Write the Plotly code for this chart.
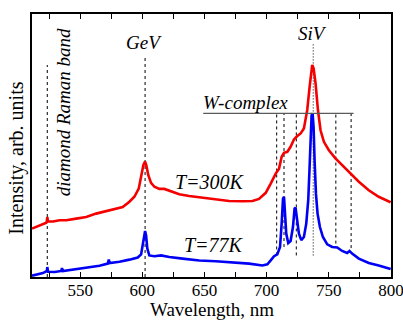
import plotly.graph_objects as go

# ---- data ----
wl_300 = [511.2, 517.4, 522.7, 523.2, 523.5, 524.1, 528.1, 533.4, 538.8, 546.8, 554.8, 562.8, 570.9,
          578.9, 584.2, 589.6, 593.6, 597.1, 599.2, 600.8, 602.2, 603.2, 604.8, 607.0, 609.7, 613.7,
          617.7, 623.0, 629.7, 637.7, 648.4, 659.1, 669.8, 680.5, 688.6, 693.9, 699.3, 703.3, 707.3,
          710.0, 712.1, 714.0, 716.7, 719.3, 722.0, 724.7, 727.4, 730.0, 732.7, 734.6, 735.9, 736.7,
          737.8, 739.4, 741.3, 743.4, 746.1, 750.1, 755.4, 760.8, 767.5, 774.2, 782.2, 790.2, 799.8]
int_300 = [18.4, 19.7, 20.6, 21.3, 22.8, 21.1, 21.1, 21.6, 21.6, 22.2, 22.8, 24.1, 25.1,
           25.8, 26.6, 28.6, 30.5, 33.6, 38.1, 42.5, 43.9, 42.5, 38.7, 35.8, 34.3, 33.5,
           33.5, 32.6, 31.5, 30.8, 30.2, 29.6, 28.9, 28.8, 28.9, 29.7, 32.0, 35.5, 39.3,
           41.2, 45.7, 47.2, 47.6, 49.5, 52.3, 53.6, 54.6, 56.5, 63.5, 72.3, 79.3, 80.6,
           79.3, 73.6, 63.5, 55.8, 51.4, 48.2, 45.1, 42.5, 39.6, 36.2, 33.0, 30.5, 28.4]

wl_77 = [511.2, 514.7, 520.0, 523.2, 523.5, 524.1, 529.4, 534.8, 535.3, 536.1, 544.1, 554.8, 565.5,
         572.2, 573.0, 573.8, 581.6, 589.6, 596.3, 599.0, 600.6, 601.7, 602.2, 603.0, 604.0, 605.6,
         609.7, 615.0, 621.7, 632.4, 645.8, 659.1, 672.5, 685.9, 696.6, 700.6, 703.3, 706.0, 708.6,
         710.8, 712.1, 713.2, 714.0, 714.8, 715.8, 717.4, 719.3, 721.2, 722.5, 723.3, 724.4, 726.0,
         727.9, 730.0, 731.9, 733.5, 734.6, 735.4, 736.2, 737.0, 737.8, 738.6, 739.7, 741.0, 742.9,
         745.3, 748.8, 752.8, 756.8, 760.8, 764.8, 766.7, 768.8, 774.2, 782.2, 790.2, 799.8]
int_77 = [0.5, 0.8, 1.5, 2.3, 3.8, 2.0, 1.9, 2.3, 3.4, 2.3, 2.8, 3.6, 4.3,
          5.1, 6.6, 5.3, 5.8, 6.6, 7.4, 8.6, 12.7, 16.5, 17.5, 15.9, 10.8, 8.2,
          7.9, 8.2, 7.6, 7.0, 6.3, 6.0, 5.6, 5.1, 4.4, 4.8, 6.3, 7.9, 8.6,
          11.4, 20.3, 29.8, 30.5, 24.1, 16.5, 12.9, 13.7, 19.0, 26.0, 26.4, 22.8, 16.5,
          14.0, 15.2, 20.3, 29.2, 41.9, 54.6, 61.5, 62.2, 57.1, 44.4, 31.7, 24.1, 19.0,
          15.2, 12.4, 11.4, 11.2, 9.9, 9.1, 9.9, 8.9, 7.0, 5.3, 4.4, 3.0]

# marker lines: wavelength, top, bottom
line_wl = [523.5, 602.2, 708.1, 714.0, 723.9, 755.7, 768.0]
line_top = [80.6, 84.4, 62.2, 62.2, 62.2, 62.2, 62.2]
line_bot = [0.0, 0.0, 8.2, 11.4, 8.2, 12.7, 11.0]
siv_wl, siv_top, siv_bot = 737.5, 88.8, 8.2
wband_x = [649.0, 770.0]
wband_y = 62.2

tick_vals = list(range(525, 801, 25))
tick_text = [str(v) if v % 50 == 0 else "" for v in tick_vals]

FONT = "Liberation Serif, Times New Roman, serif"

fig = go.Figure()
fig.add_trace(go.Scatter(x=wl_300, y=int_300, mode="lines",
                         line=dict(color="rgb(245,0,0)", width=2.6), showlegend=False))
fig.add_trace(go.Scatter(x=wl_77, y=int_77, mode="lines",
                         line=dict(color="rgb(0,0,245)", width=2.6), showlegend=False))

shapes = []
for w, t, b in zip(line_wl, line_top, line_bot):
    shapes.append(dict(type="line", xref="x", yref="y", x0=w, x1=w, y0=b, y1=t,
                       line=dict(color="black", width=1, dash="3px,3px"), layer="below"))
shapes.append(dict(type="line", xref="x", yref="y", x0=siv_wl, x1=siv_wl, y0=siv_bot, y1=siv_top,
                   line=dict(color="black", width=1, dash="1px,2px"), layer="below"))
shapes.append(dict(type="line", xref="x", yref="y", x0=wband_x[0], x1=wband_x[1], y0=wband_y, y1=wband_y,
                   line=dict(color="rgb(90,90,90)", width=1.2)))

ann_font = dict(family=FONT, size=19, color="black")
title_font = dict(family=FONT, size=20, color="black")
annotations = [
    dict(x=601.1, y=89.1, text="<i>GeV</i>", showarrow=False, font=ann_font, xref="x", yref="y"),
    dict(x=736.7, y=92.6, text="<i>SiV</i>", showarrow=False, font=ann_font, xref="x", yref="y"),
    dict(x=682.7, y=66.5, text="<i>W-complex</i>", showarrow=False, font=ann_font, xref="x", yref="y"),
    dict(x=654.3, y=36.2, text="<i>T=300K</i>", showarrow=False, font=title_font, xref="x", yref="y"),
    dict(x=657.8, y=12.1, text="<i>T=77K</i>", showarrow=False, font=title_font, xref="x", yref="y"),
    dict(x=536.1, y=62.6, text="<i>diamond Raman band</i>", showarrow=False, textangle=-90,
         font=ann_font, xref="x", yref="y"),
    # axis titles
    dict(x=0.5, y=-32.5 / 263, xref="paper", yref="paper", text="Wavelength, nm", showarrow=False,
         font=dict(family=FONT, size=19, color="black"), xanchor="center", yanchor="middle"),
    dict(x=-15 / 359, y=0.45, xref="paper", yref="paper", text="Intensity, arb. units", showarrow=False,
         font=title_font, textangle=-90, xanchor="center", yanchor="middle"),
]

fig.update_layout(
    width=403, height=320,
    margin=dict(l=32, r=12, t=14, b=43),
    paper_bgcolor="white", plot_bgcolor="white",
    font=dict(family=FONT, color="black"),
    shapes=shapes, annotations=annotations,
    xaxis=dict(range=[511.2, 800.1], tickvals=tick_vals, ticktext=tick_text,
               ticks="inside", ticklen=5, tickwidth=1, tickcolor="black",
               showline=True, linecolor="black", linewidth=1.5, mirror="ticks",
               showgrid=False, zeroline=False, automargin=False, ticklabelstandoff=-3,
               ticklabeloverflow="allow",
               tickfont=dict(family=FONT, size=17, color="black")),
    yaxis=dict(range=[0, 100], showticklabels=False, ticks="",
               showline=True, linecolor="black", linewidth=1.5, mirror=True,
               showgrid=False, zeroline=False, automargin=False),
)

fig.write_html("out.html", config={"displayModeBar": False},
               post_script="document.body.style.margin='0';")
